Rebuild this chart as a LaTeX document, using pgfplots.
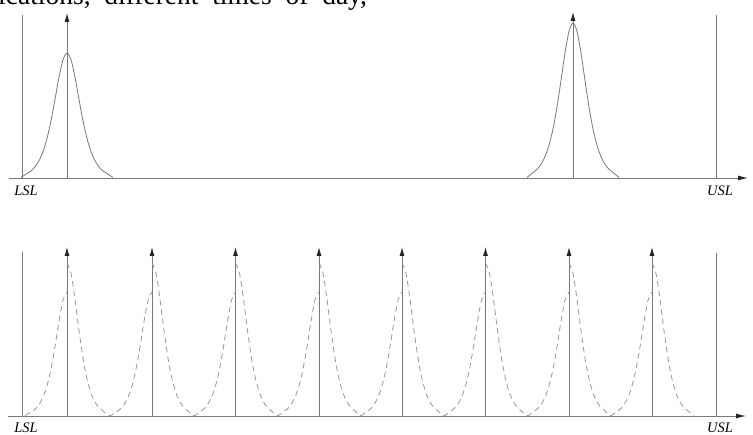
\documentclass[border=0pt]{standalone}
\usepackage{fontspec}
\setmainfont{Liberation Serif}
\usepackage{pgfplots}
\pgfplotsset{compat=1.18}
\usetikzlibrary{arrows.meta}

\definecolor{linegray}{RGB}{120,120,120}
\definecolor{dashgray}{RGB}{150,150,150}

\pgfplotsset{
  panel/.style={
    scale only axis, width=753pt, height=170pt,
    xmin=0, xmax=753, ymin=0, ymax=170,
    axis lines=none, clip=false, anchor=south west,
  },
  spec/.style={linegray, line width=0.9pt},
  mean/.style={linegray, line width=0.9pt, -{Latex[length=9pt,width=5pt,black!85]}},
  base/.style={linegray, line width=0.9pt, -{Latex[length=10pt,width=5pt,black!85]}},
  bell/.style={linegray, line width=0.8pt, smooth},
  dbell/.style={dashgray, line width=0.8pt, smooth, dash pattern=on 5.5pt off 4pt},
}
\tikzset{lbl/.style={font=\fontsize{14.5}{16}\selectfont\itshape}}

\begin{document}
\begin{tikzpicture}[x=1pt,y=1pt]
\useasboundingbox (0,0) rectangle (753,435);

% cut-off line of text above the figure
\node[anchor=base west, inner sep=0pt, font=\fontsize{27.5}{30}\selectfont]
  at (-2,430.5) {ications,\ \ different\ \ times\ \ of\ \ day,};

% ---- top panel: two distributions ----
\begin{axis}[panel, at={(0pt,257pt)}]
  \addplot[base] coordinates {(9,0) (748,0)};
  \addplot[spec] coordinates {(22.7,0) (22.7,163)};
  \addplot[spec] coordinates {(716.5,0) (716.5,163)};
  \addplot[mean] coordinates {(67,0) (67,165)};
  \addplot[mean] coordinates {(573,0) (573,166)};
  \addplot[bell] coordinates {
    (21,0.5)(27,4.5)(31,7.0)(35,11.1)(39,17.3)(43,26.4)(47,39.6)(51,57.2)
    (55,78.7)(59,100.9)(63,118.3)(67,125)(71,118.3)(75,100.9)(79,78.7)
    (83,57.2)(87,39.6)(91,26.4)(95,17.3)(99,11.1)(103,7.0)(107,4.5)(113,0.5)};
  \addplot[bell] coordinates {
    (527,0.5)(533,5.5)(537,8.7)(541,13.7)(545,21.4)(549,32.8)(553,49.1)
    (557,71.0)(561,97.6)(565,125.1)(569,146.7)(573,155)(577,146.7)
    (581,125.1)(585,97.6)(589,71.0)(593,49.1)(597,32.8)(601,21.4)
    (605,13.7)(609,8.7)(613,5.5)(619,0.5)};
  \node[lbl] at (axis cs:26,-13) {LSL};
  \node[lbl] at (axis cs:720,-13) {USL};
\end{axis}

% ---- bottom panel: many shifted distributions ----
\begin{axis}[panel, at={(0pt,19pt)}]
  \addplot[base] coordinates {(8,0) (746,0)};
  \addplot[spec] coordinates {(22.7,0) (22.7,164)};
  \addplot[spec] coordinates {(716,0) (716,163)};
  \addplot[mean] coordinates {(67,0) (67,169)};
  \addplot[mean] coordinates {(152,0) (152,169)};
  \addplot[mean] coordinates {(235.5,0) (235.5,169)};
  \addplot[mean] coordinates {(319,0) (319,169)};
  \addplot[mean] coordinates {(402,0) (402,169)};
  \addplot[mean] coordinates {(485.5,0) (485.5,169)};
  \addplot[mean] coordinates {(569,0) (569,169)};
  \addplot[mean] coordinates {(652,0) (652,169)};
  % dashed curves: rising side reaches 124, falling side starts at 153
  \addplot[dbell] coordinates {
    (25,0.5)(31,4.0)(35,6.8)(39,11.3)(43,18.7)(47,30.1)(51,46.9)(55,69.3)
    (59,94.5)(63,115.6)(67,124)};
  \addplot[dbell] coordinates {
    (67,153)(71,142.6)(75,116.6)(79,85.5)(83,57.8)(87,37.2)(91,23.0)(95,14.0)
    (99,8.4)(103,5.0)(109.5,0.3)
    (116,4.0)(120,6.8)(124,11.3)(128,18.7)(132,30.1)(136,46.9)(140,69.3)
    (144,94.5)(148,115.6)(152,124)};
  \addplot[dbell] coordinates {
    (152,153)(156,142.6)(160,116.6)(164,85.5)(168,57.8)(172,37.2)(176,23.0)
    (180,14.0)(184,8.4)(188,5.0)(193.8,0.3)
    (199.5,4.0)(203.5,6.8)(207.5,11.3)(211.5,18.7)(215.5,30.1)(219.5,46.9)
    (223.5,69.3)(227.5,94.5)(231.5,115.6)(235.5,124)};
  \addplot[dbell] coordinates {
    (235.5,153)(239.5,142.6)(243.5,116.6)(247.5,85.5)(251.5,57.8)(255.5,37.2)
    (259.5,23.0)(263.5,14.0)(267.5,8.4)(271.5,5.0)(277.3,0.3)
    (283,4.0)(287,6.8)(291,11.3)(295,18.7)(299,30.1)(303,46.9)(307,69.3)
    (311,94.5)(315,115.6)(319,124)};
  \addplot[dbell] coordinates {
    (319,153)(323,142.6)(327,116.6)(331,85.5)(335,57.8)(339,37.2)(343,23.0)
    (347,14.0)(351,8.4)(355,5.0)(360.5,0.3)
    (366,4.0)(370,6.8)(374,11.3)(378,18.7)(382,30.1)(386,46.9)(390,69.3)
    (394,94.5)(398,115.6)(402,124)};
  \addplot[dbell] coordinates {
    (402,153)(406,142.6)(410,116.6)(414,85.5)(418,57.8)(422,37.2)(426,23.0)
    (430,14.0)(434,8.4)(438,5.0)(443.8,0.3)
    (449.5,4.0)(453.5,6.8)(457.5,11.3)(461.5,18.7)(465.5,30.1)(469.5,46.9)
    (473.5,69.3)(477.5,94.5)(481.5,115.6)(485.5,124)};
  \addplot[dbell] coordinates {
    (485.5,153)(489.5,142.6)(493.5,116.6)(497.5,85.5)(501.5,57.8)(505.5,37.2)
    (509.5,23.0)(513.5,14.0)(517.5,8.4)(521.5,5.0)(527.3,0.3)
    (533,4.0)(537,6.8)(541,11.3)(545,18.7)(549,30.1)(553,46.9)(557,69.3)
    (561,94.5)(565,115.6)(569,124)};
  \addplot[dbell] coordinates {
    (569,153)(573,142.6)(577,116.6)(581,85.5)(585,57.8)(589,37.2)(593,23.0)
    (597,14.0)(601,8.4)(605,5.0)(610.5,0.3)
    (616,4.0)(620,6.8)(624,11.3)(628,18.7)(632,30.1)(636,46.9)(640,69.3)
    (644,94.5)(648,115.6)(652,124)};
  \addplot[dbell] coordinates {
    (652,153)(656,142.6)(660,116.6)(664,85.5)(668,57.8)(672,37.2)(676,23.0)
    (680,14.0)(684,8.4)(688,5.0)(694,0.5)};
  \node[lbl] at (axis cs:26,-12) {LSL};
  \node[lbl] at (axis cs:720,-12) {USL};
\end{axis}
\end{tikzpicture}
\end{document}
